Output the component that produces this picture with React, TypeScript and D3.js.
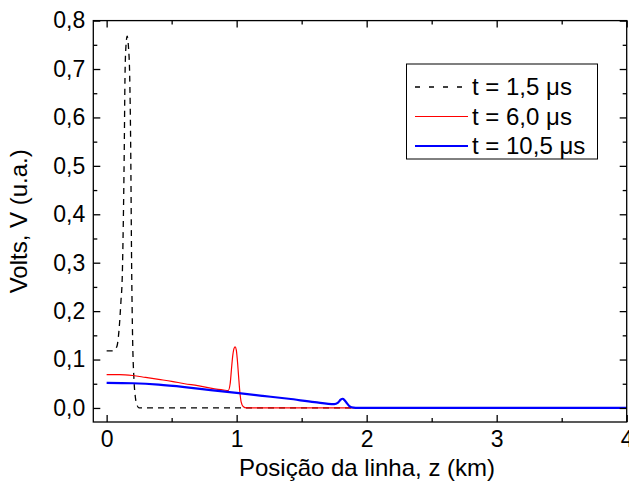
import React, { useEffect, useRef } from "react";
import * as d3 from "d3";

// tensão ao longo da linha, z (km) x V (u.a.)
const serieT15: [number, number][] = [
  [0, 0.118], [0.04, 0.118], [0.06, 0.12], [0.08, 0.128], [0.095, 0.16], [0.11, 0.22],
  [0.12, 0.27], [0.128, 0.38], [0.135, 0.52], [0.141, 0.68], [0.148, 0.745], [0.158, 0.768],
  [0.168, 0.745], [0.177, 0.69], [0.185, 0.54], [0.192, 0.3], [0.2, 0.14], [0.21, 0.06],
  [0.222, 0.02], [0.235, 0.005], [0.25, 0], [4, 0],
];
const serieT60: [number, number][] = [
  [0, 0.069], [0.1, 0.069], [0.2, 0.067], [0.3, 0.063], [0.4, 0.059], [0.5, 0.055],
  [0.6, 0.05], [0.7, 0.046], [0.8, 0.041], [0.9, 0.037], [0.935, 0.036], [0.95, 0.05],
  [0.96, 0.08], [0.97, 0.108], [0.98, 0.123], [0.988, 0.126], [0.997, 0.12], [1.005, 0.1],
  [1.015, 0.065], [1.025, 0.032], [1.035, 0.012], [1.05, 0.003], [1.075, 0], [4, 0],
];
const serieT105: [number, number][] = [
  [0, 0.052], [0.2, 0.051], [0.4, 0.048], [0.6, 0.043], [0.8, 0.037], [1.0, 0.031],
  [1.2, 0.025], [1.4, 0.019], [1.6, 0.012], [1.75, 0.008], [1.78, 0.011], [1.8, 0.017],
  [1.815, 0.019], [1.83, 0.016], [1.85, 0.009], [1.87, 0.003], [1.9, 0.0005], [1.93, 0], [4, 0],
];
const legendas = ["t = 1,5 \u03bcs", "t = 6,0 \u03bcs", "t = 10,5 \u03bcs"];
const xTicks = [0, 1, 2, 3, 4];
const xMinor = [0.5, 1.5, 2.5, 3.5];
const yTicks = [0, 0.1, 0.2, 0.3, 0.4, 0.5, 0.6, 0.7, 0.8];
const yMinor = [0.05, 0.15, 0.25, 0.35, 0.45, 0.55, 0.65, 0.75];

const fonte = "'Liberation Sans', Arial, sans-serif";

export default function App() {
  const ref = useRef<SVGSVGElement>(null);
  const width = 629, height = 482;
  const left = 93.3, right = 626.7, top = 20.6, bottom = 422;

  useEffect(() => {
    const svg = d3.select(ref.current);
    svg.selectAll("*").remove();

    const x = d3.scaleLinear().domain([-0.1026, 4]).range([left, right]);
    const y = d3.scaleLinear().domain([-0.029, 0.8]).range([bottom, top]);
    const br = d3.formatLocale({ decimal: ",", thousands: ".", grouping: [3], currency: ["", ""] });
    const fy = br.format(".1f");

    const line = d3.line<[number, number]>()
      .x(d => x(d[0]))
      .y(d => y(d[1]))
      .curve(d3.curveMonotoneX);

    const g = svg.append("g");
    g.append("path").datum(serieT15).attr("d", line).attr("fill", "none")
      .attr("stroke", "#000").attr("stroke-width", 1.3).attr("stroke-dasharray", "6,5");
    g.append("path").datum(serieT60).attr("d", line).attr("fill", "none")
      .attr("stroke", "#ff0000").attr("stroke-width", 1.2);
    g.append("path").datum(serieT105).attr("d", line).attr("fill", "none")
      .attr("stroke", "#0000ff").attr("stroke-width", 2.2);

    // eixos
    const ax = (sel: d3.Selection<SVGGElement, unknown, null, undefined>) => {
      sel.select(".domain").remove();
      sel.selectAll("line").attr("stroke", "#000").attr("stroke-width", 1.3);
      sel.selectAll("text").attr("fill", "#000").style("font-family", fonte).style("font-size", "23px");
    };
    svg.append("g").attr("transform", `translate(0,${bottom})`)
      .call(d3.axisBottom(x).tickValues(xTicks).tickSize(-7).tickPadding(9).tickFormat(d3.format("d")))
      .call(ax);
    svg.append("g").attr("transform", `translate(0,${bottom})`)
      .call(d3.axisBottom(x).tickValues(xMinor).tickSize(-4).tickFormat(() => ""))
      .call(ax);
    svg.append("g").attr("transform", `translate(0,${top})`)
      .call(d3.axisTop(x).tickValues(xTicks).tickSize(-7).tickFormat(() => ""))
      .call(ax);
    svg.append("g").attr("transform", `translate(0,${top})`)
      .call(d3.axisTop(x).tickValues(xMinor).tickSize(-4).tickFormat(() => ""))
      .call(ax);
    svg.append("g").attr("transform", `translate(${left},0)`)
      .call(d3.axisLeft(y).tickValues(yTicks).tickSize(-7).tickPadding(8).tickFormat(d => fy(d as number)))
      .call(ax);
    svg.append("g").attr("transform", `translate(${left},0)`)
      .call(d3.axisLeft(y).tickValues(yMinor).tickSize(-4).tickFormat(() => ""))
      .call(ax);
    svg.append("g").attr("transform", `translate(${right},0)`)
      .call(d3.axisRight(y).tickValues(yTicks).tickSize(-7).tickFormat(() => ""))
      .call(ax);
    svg.append("g").attr("transform", `translate(${right},0)`)
      .call(d3.axisRight(y).tickValues(yMinor).tickSize(-4).tickFormat(() => ""))
      .call(ax);

    svg.append("rect").attr("x", left).attr("y", top).attr("width", right - left)
      .attr("height", bottom - top).attr("fill", "none").attr("stroke", "#000").attr("stroke-width", 1.3);

    svg.append("text").attr("x", 367).attr("y", 476).attr("text-anchor", "middle")
      .style("font-family", fonte).style("font-size", "24px").text("Posição da linha, z (km)");
    svg.append("text").attr("transform", `translate(27,${(top + bottom) / 2}) rotate(-90)`)
      .attr("text-anchor", "middle")
      .style("font-family", fonte).style("font-size", "24px").text("Volts, V (u.a.)");

    // legenda
    const lg = svg.append("g");
    lg.append("rect").attr("x", 406.5).attr("y", 64).attr("width", 191).attr("height", 95)
      .attr("fill", "#fff").attr("stroke", "#000").attr("stroke-width", 1);
    const estilos = [
      { cor: "#000", w: 1.3, dash: "5,9" },
      { cor: "#ff0000", w: 1.2, dash: null },
      { cor: "#0000ff", w: 2.2, dash: null },
    ];
    const rows = d3.scalePoint<number>().domain([0, 1, 2]).range([87, 146]);
    legendas.forEach((t, i) => {
      const yy = rows(i) as number;
      const l = lg.append("line").attr("x1", 415).attr("x2", 468).attr("y1", yy).attr("y2", yy)
        .attr("stroke", estilos[i].cor).attr("stroke-width", estilos[i].w);
      if (estilos[i].dash) l.attr("stroke-dasharray", estilos[i].dash);
      lg.append("text").attr("x", 472).attr("y", yy + 8)
        .style("font-family", fonte).style("font-size", "24px").text(t);
    });
  }, []);

  return (
    <svg ref={ref} width={width} height={height}
      style={{ position: "absolute", left: 0, top: 0, background: "#fff" }} />
  );
}
